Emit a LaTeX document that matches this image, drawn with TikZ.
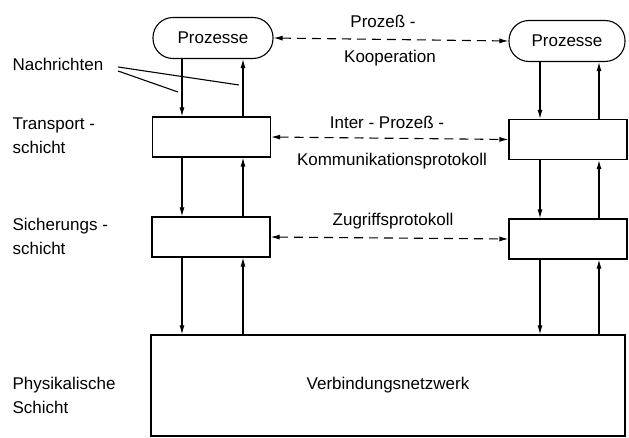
\documentclass[tikz,border=0pt]{standalone}
\usepackage{fontspec}
\setmainfont{Liberation Sans}
\usetikzlibrary{arrows.meta}
\begin{document}
\begin{tikzpicture}[x=1pt,y=-1pt,
  font={\fontsize{17}{24}\selectfont},
  every path/.style={line width=1.1pt},
  tip/.style={-{Latex[length=9pt,width=5pt]}},
  dtip/.style={{Latex[length=9pt,width=5pt]}-{Latex[length=9pt,width=5pt]}, dash pattern=on 9pt off 6pt},
  layerbox/.style={draw, minimum width=118pt, minimum height=40pt, inner sep=0pt},
  procbox/.style={draw, rounded corners=20pt, minimum height=41pt, inner sep=0pt},
  lbl/.style={inner sep=0pt},
  side/.style={inner sep=0pt, anchor=west, align=left}]
\useasboundingbox (0,0) rectangle (629,438);

% process nodes
\node[procbox, minimum width=120pt] (pl) at (213,38) {Prozesse};
\node[procbox, minimum width=116pt] (pr) at (567,41) {Prozesse};

% transport layer
\node[layerbox] (tl) at (211.5,137) {};
\node[layerbox] (tr) at (568,139.5) {};

% data link layer
\node[layerbox] (sl) at (211,237) {};
\node[layerbox] (sr) at (568,239) {};

% physical network
\node[draw, minimum width=474pt, minimum height=101pt, inner sep=0pt] (net) at (388,385.5) {Verbindungsnetzwerk};

% vertical channel positions
\coordinate (ld) at (182,0);
\coordinate (lu) at (243,0);
\coordinate (rd) at (540,0);
\coordinate (ru) at (599,0);

% left stack
\draw[tip] (pl.south -| ld) -- (tl.north -| ld);
\draw[tip] (tl.north -| lu) -- (pl.south -| lu);
\draw[tip] (tl.south -| ld) -- (sl.north -| ld);
\draw[tip] (sl.north -| lu) -- (tl.south -| lu);
\draw[tip] (sl.south -| ld) -- (net.north -| ld);
\draw[tip] (net.north -| lu) -- (sl.south -| lu);

% right stack
\draw[tip] (pr.south -| rd) -- (tr.north -| rd);
\draw[tip] (tr.north -| ru) -- (pr.south -| ru);
\draw[tip] (tr.south -| rd) -- (sr.north -| rd);
\draw[tip] (sr.north -| ru) -- (tr.south -| ru);
\draw[tip] (sr.south -| rd) -- (net.north -| rd);
\draw[tip] (net.north -| ru) -- (sr.south -| ru);

% peer protocols
\draw[dtip] (pl.east) -- (pr.west);
\draw[dtip] (tl.east) -- (tr.west);
\draw[dtip] (sl.east) -- (sr.west);

\node[lbl] (k1) at (383,21) {Prozeß -};
\node[lbl] (k2) at (390,58) {Kooperation};
\node[lbl] (i1) at (387,122) {Inter - Prozeß -};
\node[lbl] (i2) at (392,161) {Kommunikationsprotokoll};
\node[lbl] (z1) at (393,221) {Zugriffsprotokoll};

% layer names
\node[side] (nach) at (12,64) {Nachrichten};
\node[side] (ts) at (12,136) {Transport -\\schicht};
\node[side] (ss) at (12,236) {Sicherungs -\\schicht};
\node[side] (ps) at (12,395) {Physikalische\\Schicht};

% message pointers
\coordinate (m1) at (118,67);
\coordinate (m2) at (118,71);
\coordinate (e1) at (239,85);
\coordinate (e2) at (178,92);
\draw (m1) -- (e1);
\draw (m2) -- (e2);
\end{tikzpicture}
\end{document}
